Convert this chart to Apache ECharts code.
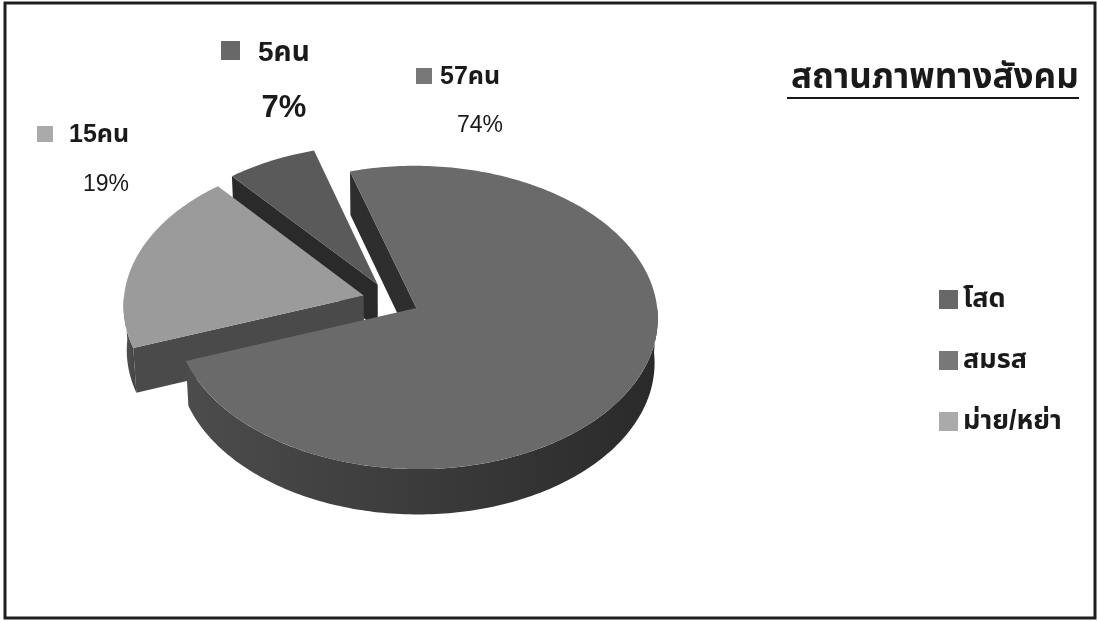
<!DOCTYPE html>
<html><head><meta charset="utf-8">
<script src="https://cdn.jsdelivr.net/npm/echarts@6/dist/echarts.min.js"></script>
<style>html,body{margin:0;padding:0;background:#fff}#c{width:1098px;height:621px}</style>
</head><body><div id="c"></div>
<script>
// ---- data ----
const categories = ['โสด', 'สมรส', 'ม่าย/หย่า'];
const counts = [5, 57, 15];
const percents = [7, 74, 19];
const unit = 'คน';
const chartTitle = 'สถานภาพทางสังคม';

// ---- styles / layout ----
const FONT = "'Liberation Sans', 'Noto Sans Thai', 'Loma', 'Tahoma', Arial, sans-serif";
const legendColors = ['#686868', '#787878', '#aaaaaa'];
const topColors = ['#5a5a5a', '#6a6a6a', '#9b9b9b'];
const wallColors = [['#3a3a3a', '#262626'], ['#4c4c4c', '#2a2a2a'], ['#555555', '#424242']];
const radialWallColors = ['#2a2a2a', '#2e2e2e', '#4a4a4a'];
const G = { cx: 391, cy: 300, R: 240, elev: 38.7, persp: 0.08, depth: 0.24, explode: 0.118, startAngle: 130 };
const labelLayout = [
  { box: [221, 41, 19], nameX: 258, nameY: 53, nameSize: 28, pctX: 284, pctY: 108, pctSize: 31, pctWeight: 'bold' },
  { box: [416, 68, 16], nameX: 440, nameY: 77, nameSize: 25, pctX: 480, pctY: 126, pctSize: 23, pctWeight: 'normal' },
  { box: [37, 126, 16], nameX: 69, nameY: 135, nameSize: 25, pctX: 106, pctY: 185, pctSize: 23, pctWeight: 'normal' }
];

const total = counts.reduce((a, b) => a + b, 0);
const rad = d => d * Math.PI / 180;
const se = Math.sin(rad(G.elev)), ce = Math.cos(rad(G.elev));
function proj(X, Z, Y) {
  const w = 1 + G.persp * (Z * ce - Y * se);
  return [G.cx + G.R * X / w, G.cy - G.R * (Z * se + Y * ce) / w];
}
function sliceAngles(i) {
  let before = 0;
  for (let j = 0; j < i; j++) before += counts[j];
  const a1 = G.startAngle - before / total * 360;
  const a2 = a1 - counts[i] / total * 360;
  return [a2, a1];
}
const depthRank = (() => {
  const s = counts.map((_, i) => { const [a2, a1] = sliceAngles(i); return { i, s: Math.sin(rad((a1 + a2) / 2)) }; });
  s.sort((p, q) => q.s - p.s);
  const r = []; s.forEach((o, k) => r[o.i] = k); return r;
})();

function renderSlice(params, api) {
  const i = params.seriesIndex;
  const [a2, a1] = sliceAngles(i);
  const mid = rad((a1 + a2) / 2);
  const ox = G.explode * Math.cos(mid), oz = G.explode * Math.sin(mid);
  const P = (deg, y) => proj(ox + Math.cos(rad(deg)), oz + Math.sin(rad(deg)), y);
  const arc = (from, to, y) => {
    const pts = []; const n = Math.max(2, Math.ceil(Math.abs(to - from)));
    for (let s = 0; s <= n; s++) pts.push(P(from + (to - from) * s / n, y));
    return pts;
  };
  const D = -G.depth;
  const base = depthRank[i] * 10;
  const children = [];
  // outer (front) wall
  for (let n = -2; n <= 2; n++) {
    const lo = Math.max(a2, 180 + 360 * n), hi = Math.min(a1, 360 + 360 * n);
    if (hi > lo) {
      const pts = arc(lo, hi, 0).concat(arc(hi, lo, D));
      children.push({ type: 'polygon', z2: base + 1, shape: { points: pts },
        style: { fill: { type: 'linear', x: 0, y: 0, x2: 1, y2: 0, colorStops: [{ offset: 0, color: wallColors[i][0] }, { offset: 1, color: wallColors[i][1] }] } } });
    }
  }
  // radial walls
  const c0 = proj(ox, oz, 0), c1 = proj(ox, oz, D);
  if (Math.cos(rad(a1)) < 0) children.push({ type: 'polygon', z2: base + 2, shape: { points: [c0, P(a1, 0), P(a1, D), c1] }, style: { fill: radialWallColors[i] } });
  if (Math.cos(rad(a2)) > 0) children.push({ type: 'polygon', z2: base + 2, shape: { points: [c0, P(a2, 0), P(a2, D), c1] }, style: { fill: radialWallColors[i] } });
  // top face
  children.push({ type: 'polygon', z2: base + 5, shape: { points: [c0].concat(arc(a2, a1, 0)) }, style: { fill: topColors[i] } });
  // data label
  const L = labelLayout[i];
  children.push({ type: 'rect', z2: 100, shape: { x: L.box[0], y: L.box[1], width: L.box[2], height: L.box[2] }, style: { fill: legendColors[i] } });
  children.push({ type: 'text', z2: 100, style: { x: L.nameX, y: L.nameY, text: counts[i] + unit, fill: '#1a1a1a', font: 'bold ' + L.nameSize + 'px ' + FONT, verticalAlign: 'middle' } });
  children.push({ type: 'text', z2: 100, style: { x: L.pctX, y: L.pctY, text: percents[i] + '%', fill: '#1a1a1a', font: L.pctWeight + ' ' + L.pctSize + 'px ' + FONT, align: 'center', verticalAlign: 'middle' } });
  return { type: 'group', children };
}

const chart = echarts.init(document.getElementById('c'), null, { renderer: 'canvas' });
chart.setOption({
  backgroundColor: '#ffffff',
  animation: false,
  title: { text: chartTitle, left: 786, top: 56, textStyle: { fontFamily: FONT, fontSize: 35, fontWeight: 'bold', color: '#1a1a1a' } },
  legend: {
    orient: 'vertical', left: 934, top: 281, itemGap: 34, icon: 'rect', itemWidth: 19, itemHeight: 19,
    data: categories,
    textStyle: { fontFamily: FONT, fontSize: 27, lineHeight: 27, fontWeight: 'bold', color: '#1a1a1a' }
  },
  graphic: [
    { type: 'rect', shape: { x: 5, y: 3, width: 1090, height: 615 }, style: { fill: 'none', stroke: '#1e1e1e', lineWidth: 3 }, silent: true },
    { type: 'rect', shape: { x: 787, y: 97, width: 292, height: 2 }, style: { fill: '#1a1a1a' }, silent: true }
  ],
  series: categories.map((name, i) => ({
    type: 'custom', name, coordinateSystem: 'none', renderItem: renderSlice,
    itemStyle: { color: legendColors[i] }, data: [[counts[i]]]
  }))
});
</script>
</body></html>
